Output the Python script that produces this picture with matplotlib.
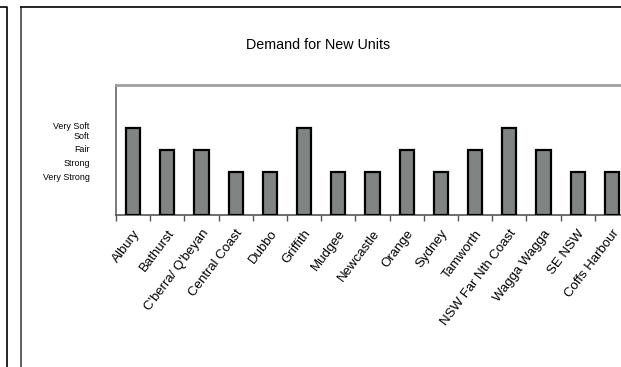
import numpy as np
import matplotlib.pyplot as plt
from matplotlib.lines import Line2D

plt.rcParams['font.family'] = ['Liberation Sans', 'DejaVu Sans']

Regions = ["Albury", "Bathurst", "C'berra/ Q'beyan", "Central Coast", "Dubbo",
           "Griffith", "Mudgee", "Newcastle", "Orange", "Sydney", "Tamworth",
           "NSW Far Nth Coast", "Wagga Wagga", "SE NSW", "Coffs Harbour"]
Demand = [4, 3, 3, 2, 2, 4, 2, 2, 3, 2, 3, 4, 3, 2, 2]

RatingNames = ["Very Soft", "Soft", "Fair", "Strong", "Very Strong"]
RatingPos = [4.15, 3.69, 3.05, 2.40, 1.80]

W, H = 621, 367
fig = plt.figure(figsize=(W/100, H/100), dpi=100)

# plot area, runs a little past the right edge
ax = fig.add_axes([116/W, (H-215)/H, 513/W, 130/H])

x = np.arange(len(Regions))
ax.bar(x, Demand, width=0.42, color='#808584', edgecolor='black', linewidth=1.6, zorder=3)

ax.set_xlim(-0.5, len(Regions)-0.5)
ax.set_ylim(0, 6)

ax.set_xticks(x)
ax.set_xticklabels(Regions, rotation=53, ha='right', rotation_mode='anchor', fontsize=9.5)
ax.tick_params(axis='x', which='major', length=0, pad=9)
ax.set_xticks(np.arange(-0.5, len(Regions)), minor=True)
ax.tick_params(axis='x', which='minor', length=4, width=1, color='#555555', direction='out')

ax.set_yticks(RatingPos)
ax.set_yticklabels(RatingNames, fontsize=6.4)
ax.tick_params(axis='y', length=0, pad=19)

ax.spines['right'].set_visible(False)
ax.spines['top'].set_color('#a0a0a0')
ax.spines['top'].set_linewidth(2)
ax.spines['left'].set_color('#7a7a7a')
ax.spines['left'].set_linewidth(1.4)
ax.spines['bottom'].set_color('#555555')
ax.spines['bottom'].set_linewidth(1.2)

fig.text(318/W, 1-45/H, "Demand for New Units", ha='center', va='center', fontsize=10.3)

# frame lines of the surrounding boxes
def px_line(xs, ys, c='black', lw=1.2):
    fig.add_artist(Line2D([v/W for v in xs], [1-v/H for v in ys],
                          transform=fig.transFigure, color=c, linewidth=lw))

px_line([0, 6.5, 6.5], [6.5, 6.5, H])
px_line([20.5, 20.5], [H, 6.5], c='#444444')
px_line([20.5, W], [6.5, 6.5])

fig.savefig('out.png', dpi=100)
